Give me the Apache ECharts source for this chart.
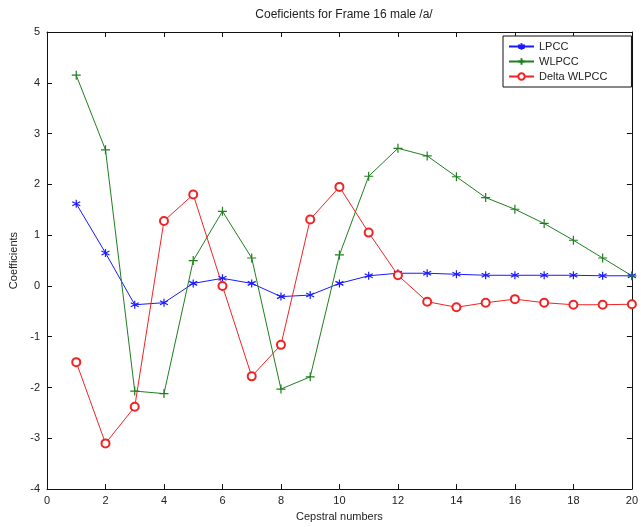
<!DOCTYPE html>
<html>
<head>
<meta charset="utf-8">
<script src="https://cdn.jsdelivr.net/npm/echarts@6/dist/echarts.min.js"></script>
<style>
html,body{margin:0;padding:0;background:#fff;}
#c{width:641px;height:527px;}
</style>
</head>
<body>
<div id="c"></div>
<script>
// Data
var cepstral = [1,2,3,4,5,6,7,8,9,10,11,12,13,14,15,16,17,18,19,20];
var lpcc  = [1.62, 0.65, -0.37, -0.33, 0.05, 0.15, 0.05, -0.21, -0.18, 0.05, 0.20, 0.25, 0.25, 0.23, 0.21, 0.21, 0.21, 0.21, 0.20, 0.20];
var wlpcc = [4.15, 2.68, -2.07, -2.12, 0.50, 1.47, 0.55, -2.03, -1.79, 0.61, 2.16, 2.71, 2.56, 2.15, 1.74, 1.51, 1.23, 0.90, 0.55, 0.20];
var deltaWlpcc = [-1.50, -3.10, -2.38, 1.28, 1.80, 0.00, -1.78, -1.16, 1.31, 1.95, 1.05, 0.21, -0.31, -0.42, -0.33, -0.26, -0.33, -0.37, -0.37, -0.36];
var seriesNames = ['LPCC', 'WLPCC', 'Delta WLPCC'];
var titleText = 'Coeficients for Frame 16 male /a/';
var xName = 'Cepstral numbers';
var yName = 'Coefficients';

function pairs(ys){ return cepstral.map(function(x,i){ return [x, ys[i]]; }); }

var FONT = 'Liberation Sans, Arial, sans-serif';
var TXT = '#222';
var AX = '#111';
var BLUE = '#1a1aff', GREEN = '#1f7f1f', RED = '#f02424';

var chart = echarts.init(document.getElementById('c'), null, {renderer:'canvas'});
function axisBase(){
  return {
    axisLine:{show:true, onZero:false, lineStyle:{color:AX, width:1}},
    axisTick:{show:true, inside:true, length:5, lineStyle:{color:AX}},
    splitLine:{show:false}
  };
}
chart.setOption({
  animation:false,
  backgroundColor:'#fff',
  textStyle:{fontFamily:FONT},
  title:{
    text:titleText, left:339, top:4, textAlign:'center',
    textStyle:{fontSize:12, fontWeight:'normal', color:TXT, fontFamily:FONT}
  },
  legend:{
    orient:'vertical', left:503, top:36,
    itemWidth:25, itemHeight:8, itemGap:4,
    backgroundColor:'#fff', borderColor:AX, borderWidth:1,
    padding:[5,24,5,5],
    textStyle:{fontSize:11, color:TXT, fontFamily:FONT},
    data:seriesNames
  },
  grid:{left:47, top:32, width:586, height:463, containLabel:false},
  xAxis:[
    Object.assign(axisBase(), {
      type:'value', min:0, max:20, interval:2, position:'bottom',
      name:xName, nameLocation:'middle', nameGap:20,
      nameTextStyle:{fontSize:11, color:TXT, fontFamily:FONT},
      axisLabel:{fontSize:11, color:TXT, margin:6, fontFamily:FONT}
    }),
    Object.assign(axisBase(), {
      type:'value', min:0, max:20, interval:2, position:'top',
      axisLabel:{show:false}
    })
  ],
  yAxis:[
    Object.assign(axisBase(), {
      type:'value', min:-4, max:5, interval:1, position:'left',
      name:yName, nameLocation:'middle', nameGap:27,
      nameTextStyle:{fontSize:11, color:TXT, fontFamily:FONT},
      axisLabel:{fontSize:11, color:TXT, margin:7, fontFamily:FONT}
    }),
    Object.assign(axisBase(), {
      type:'value', min:-4, max:5, interval:1, position:'right',
      axisLabel:{show:false}
    })
  ],
  series:[
    {
      name:seriesNames[0], type:'line', data:pairs(lpcc),
      symbol:'path://M0,-5L0,5M-4.33,-2.5L4.33,2.5M-4.33,2.5L4.33,-2.5',
      symbolSize:8, showAllSymbol:true,
      lineStyle:{color:BLUE, width:1},
      itemStyle:{color:BLUE, borderColor:BLUE, borderWidth:1.2}
    },
    {
      name:seriesNames[1], type:'line', data:pairs(wlpcc),
      symbol:'path://M0,-5L0,5M-5,0L5,0',
      symbolSize:9, showAllSymbol:true,
      lineStyle:{color:GREEN, width:1},
      itemStyle:{color:GREEN, borderColor:GREEN, borderWidth:1.2}
    },
    {
      name:seriesNames[2], type:'line', data:pairs(deltaWlpcc),
      symbol:'emptyCircle', symbolSize:8, showAllSymbol:true,
      lineStyle:{color:RED, width:1},
      itemStyle:{color:RED, borderColor:RED, borderWidth:1}
    }
  ]
});
</script>
</body>
</html>
